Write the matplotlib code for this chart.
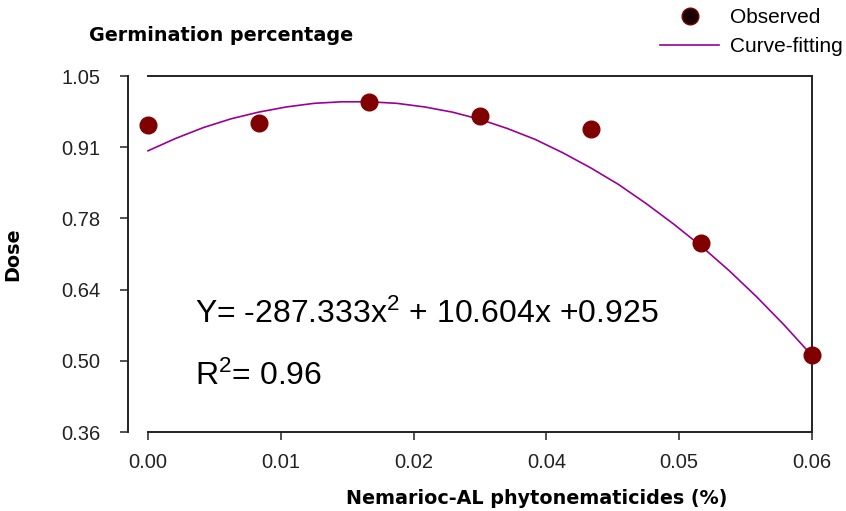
import matplotlib
matplotlib.use("Agg")
import matplotlib.pyplot as plt

# Observed germination values at each concentration
conc = [0.00, 0.01, 0.02, 0.03, 0.04, 0.05, 0.06]
observed = [0.955, 0.958, 0.999, 0.972, 0.948, 0.727, 0.509]

# Fitted curve
curve_x = [0.0000, 0.0025, 0.0050, 0.0075, 0.0100, 0.0125, 0.0150, 0.0175,
           0.0200, 0.0225, 0.0250, 0.0275, 0.0300, 0.0325, 0.0350, 0.0375,
           0.0400, 0.0425, 0.0450, 0.0475, 0.0500, 0.0525, 0.0550, 0.0575,
           0.0600]
curve_y = [0.905, 0.929, 0.950, 0.967, 0.980, 0.990, 0.997, 1.000,
           1.000, 0.997, 0.990, 0.980, 0.966, 0.948, 0.927, 0.901,
           0.872, 0.840, 0.803, 0.763, 0.720, 0.673, 0.622, 0.567,
           0.508]

x_ticks = [0.0, 0.012, 0.024, 0.036, 0.048, 0.06]
x_labels = ["0.00", "0.01", "0.02", "0.04", "0.05", "0.06"]
y_ticks = [0.36, 0.498, 0.636, 0.774, 0.912, 1.05]
y_labels = ["0.36", "0.50", "0.64", "0.78", "0.91", "1.05"]

plt.rcParams['font.family'] = ['Liberation Sans', 'DejaVu Sans']
plt.rcParams['mathtext.fontset'] = 'custom'
plt.rcParams['mathtext.rm'] = 'Liberation Sans'
plt.rcParams['mathtext.it'] = 'Liberation Sans:italic'

fig = plt.figure(figsize=(8.46, 5.11), dpi=100)
ax = fig.add_axes([148 / 846, 1 - 432 / 511, 664 / 846, 356 / 511])

ax.plot(curve_x, curve_y, color='#990099', lw=1.2, label='Curve-fitting', clip_on=False)
ax.plot(conc, observed, 'o', color='#800000', ms=12, label='Observed', clip_on=False, zorder=3)

ax.set_xlim(0, 0.06)
ax.set_ylim(0.36, 1.05)
ax.set_xticks(x_ticks)
ax.set_xticklabels(x_labels)
ax.set_yticks(y_ticks)
ax.set_yticklabels(y_labels)
ax.tick_params(labelsize=14.5, colors='#222222', length=6, width=1.1, direction='out')
ax.tick_params(axis='y', pad=14)
ax.tick_params(axis='x', pad=9)

for side in ['left', 'bottom', 'top', 'right']:
    ax.spines[side].set_color('#222222')
    ax.spines[side].set_linewidth(1.4)
ax.spines['left'].set_position(('outward', 14.4))

bold = dict(family='DejaVu Sans', weight='bold', fontsize=13.8)
ax.set_ylabel('Dose', **bold)
ax.yaxis.set_label_coords(-0.19, 0.5)
ax.set_xlabel('Nemarioc-AL phytonematicides (%)', **bold)
ax.xaxis.set_label_coords(0.586, -0.16)
fig.text(221 / 846, 1 - 35 / 511, 'Germination percentage', ha='center', va='center', **bold)

ax.text(0.071, 0.33, 'Y= -287.333x$^2$ + 10.604x +0.925', transform=ax.transAxes,
        fontsize=23, va='center', ha='left')
ax.text(0.071, 0.157, 'R$^2$= 0.96', transform=ax.transAxes,
        fontsize=23, va='center', ha='left')

handles, labels = ax.get_legend_handles_labels()
leg = fig.legend(handles[::-1], labels[::-1], loc='upper right',
                 bbox_to_anchor=(843 / 846, 1 - 8 / 511), frameon=False,
                 fontsize=15, handlelength=2.8, handletextpad=0.55,
                 labelspacing=0.5, borderpad=0, borderaxespad=0)
leg.legend_handles[0].set_markerfacecolor('#1a0000')

fig.savefig('out.png', dpi=100)
